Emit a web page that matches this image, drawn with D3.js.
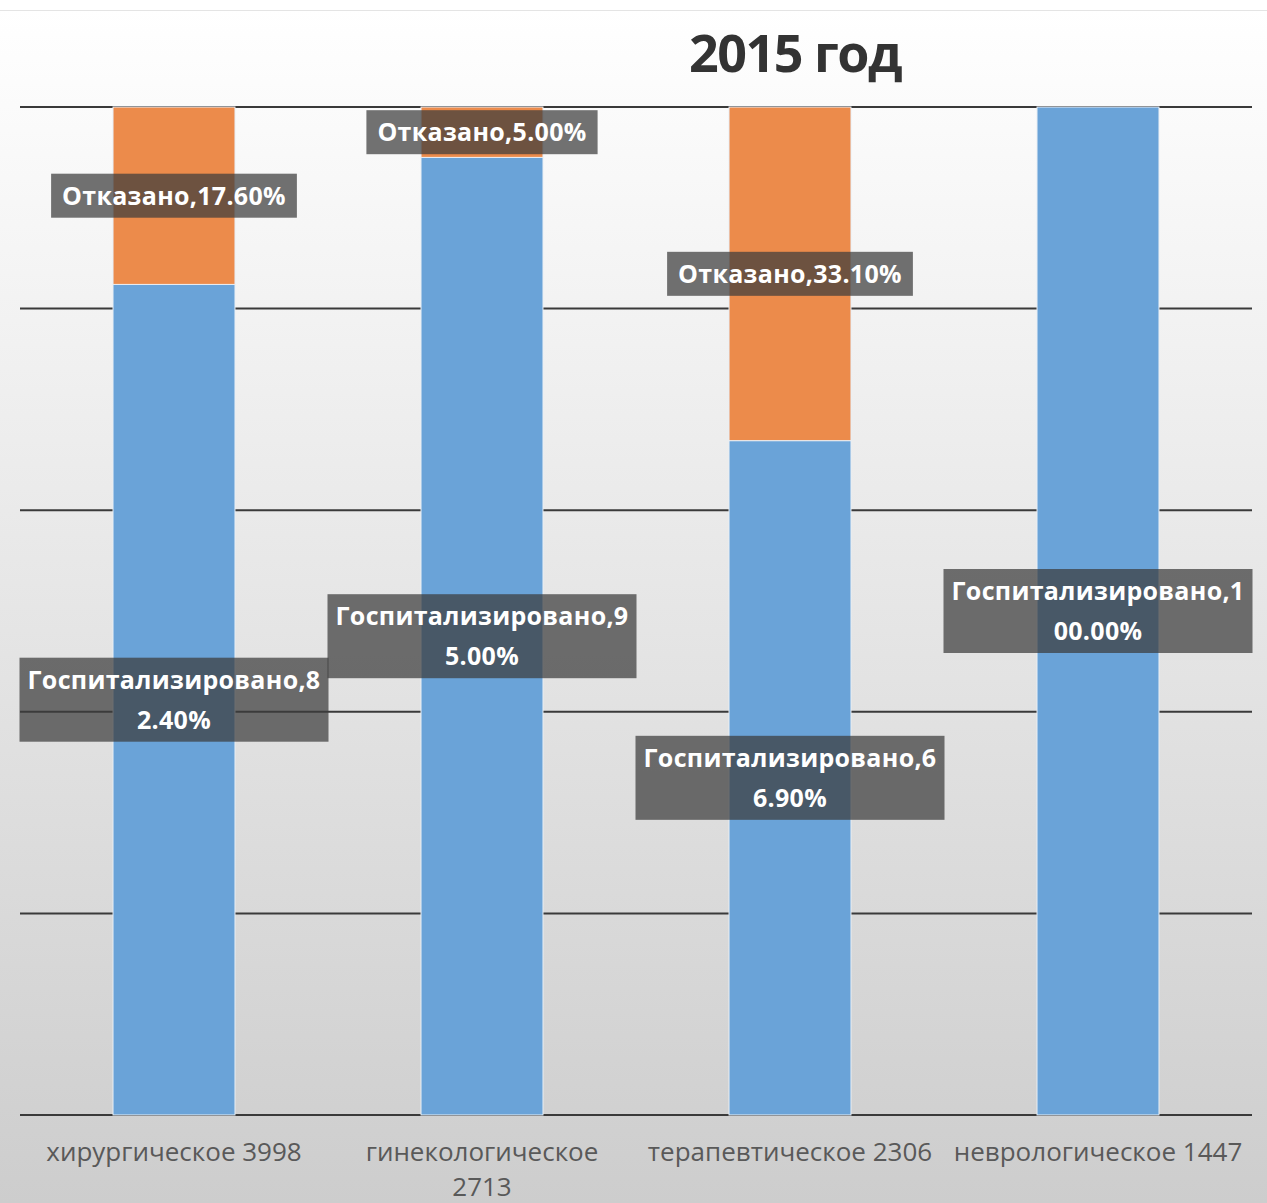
<!DOCTYPE html>
<html><head><meta charset="utf-8">
<script src="https://cdn.jsdelivr.net/npm/d3@7"></script>
<style>body{margin:0;background:#fff}svg{display:block}</style>
</head><body>
<svg id="c" width="1267" height="1203"></svg>
<script>
const categories = ["хирургическое 3998","гинекологическое 2713","терапевтическое 2306","неврологическое 1447"];
const seriesNames = ["Госпитализировано","Отказано"];
const hospitalized = [82.4, 95.0, 66.9, 100.0];
const refused = [17.6, 5.0, 33.1, 0];
const yTicks = [0,20,40,60,80,100];
const title = "2015 год";
const colors = ["#6aa3d8","#ec8b4b"];

const svg = d3.select("#c");
const W=1267,H=1203;
const defs = svg.append("defs");
const g = defs.append("linearGradient").attr("id","bg").attr("x1",0).attr("y1",0).attr("x2",0).attr("y2",1);
g.append("stop").attr("offset","0%").attr("stop-color","#ffffff");
g.append("stop").attr("offset","100%").attr("stop-color","#cdcdcd");
svg.append("rect").attr("x",0).attr("y",10).attr("width",W).attr("height",H-10).attr("fill","url(#bg)");
svg.append("line").attr("x1",0).attr("x2",W).attr("y1",10.5).attr("y2",10.5).attr("stroke","#e4e4e4");

const x = d3.scaleBand().domain(categories).range([20,1252]).paddingInner(0.604).paddingOuter(0.302);
const y = d3.scaleLinear().domain([0,100]).range([1115,107]);

// gridlines
svg.append("g").selectAll("line").data(yTicks).join("line")
  .attr("x1",20).attr("x2",1252).attr("y1",d=>y(d)).attr("y2",d=>y(d))
  .attr("stroke","#3a3a3a").attr("stroke-width",2);

const rows = categories.map((c,i)=>({cat:c, "Госпитализировано":hospitalized[i], "Отказано":refused[i]}));
const stack = d3.stack().keys(seriesNames)(rows);

const layers = svg.append("g").selectAll("g").data(stack).join("g").attr("fill",(d,i)=>colors[i]);
layers.selectAll("rect").data(d=>d.filter(s=>s[1]-s[0]>0)).join("rect")
  .attr("x",d=>x(d.data.cat)).attr("width",x.bandwidth())
  .attr("y",d=>y(d[1])).attr("height",d=>y(d[0])-y(d[1]))
  .attr("stroke","#e8eef5").attr("stroke-width",1);

// title
svg.append("text").attr("x",795).attr("y",72).attr("text-anchor","middle")
  .attr("font-family","Open Sans").attr("font-weight","bold").attr("font-size",52)
  .attr("fill","#333").attr("letter-spacing",-1.5).text(title);

// x labels
const xl = svg.append("g").attr("font-family","Open Sans").attr("font-size",26).attr("fill","#595959").attr("text-anchor","middle");
const xlabelLines = [["хирургическое 3998"],["гинекологическое","2713"],["терапевтическое 2306"],["неврологическое 1447"]];
categories.forEach((c,i)=>{
  const t = xl.append("text").attr("x",x(c)+x.bandwidth()/2).attr("y",1161);
  xlabelLines[i].forEach((ln,j)=>t.append("tspan").attr("x",x(c)+x.bandwidth()/2).attr("dy",j?35:0).text(ln));
});

// data labels
const lab = svg.append("g");
const maxW = 300;
stack.forEach((layer,si)=>{
  layer.forEach(s=>{
    if (s[1]-s[0] <= 0) return;
    const v = s[1]-s[0];
    const full = seriesNames[si]+","+v.toFixed(2)+"%";
    const cx = x(s.data.cat)+x.bandwidth()/2, cy = (y(s[0])+y(s[1]))/2;
    const grp = lab.append("g");
    const rect = grp.append("rect").attr("fill","rgba(60,60,60,0.72)");
    const t = grp.append("text").attr("font-family","Open Sans").attr("font-weight","bold")
      .attr("font-size",25).attr("letter-spacing",0.3).attr("fill","#fff").attr("text-anchor","middle");
    const lines=[]; let cur="";
    const probe = t.append("tspan");
    for (const ch of full){
      probe.text(cur+ch);
      if (probe.node().getComputedTextLength()>maxW && cur){lines.push(cur);cur=ch;} else cur+=ch;
    }
    lines.push(cur); probe.remove();
    const lh=40;
    const n=lines.length;
    lines.forEach((ln,j)=>t.append("tspan").attr("x",cx).attr("y",cy-(n-1)*lh/2+j*lh+9).text(ln));
    const bw = n>1 ? 309 : t.node().getComputedTextLength()+22;
    const bh = n>1 ? 84 : 44;
    rect.attr("x",cx-bw/2).attr("y",cy-bh/2).attr("width",bw).attr("height",bh);
  });
});
</script>
</body></html>
